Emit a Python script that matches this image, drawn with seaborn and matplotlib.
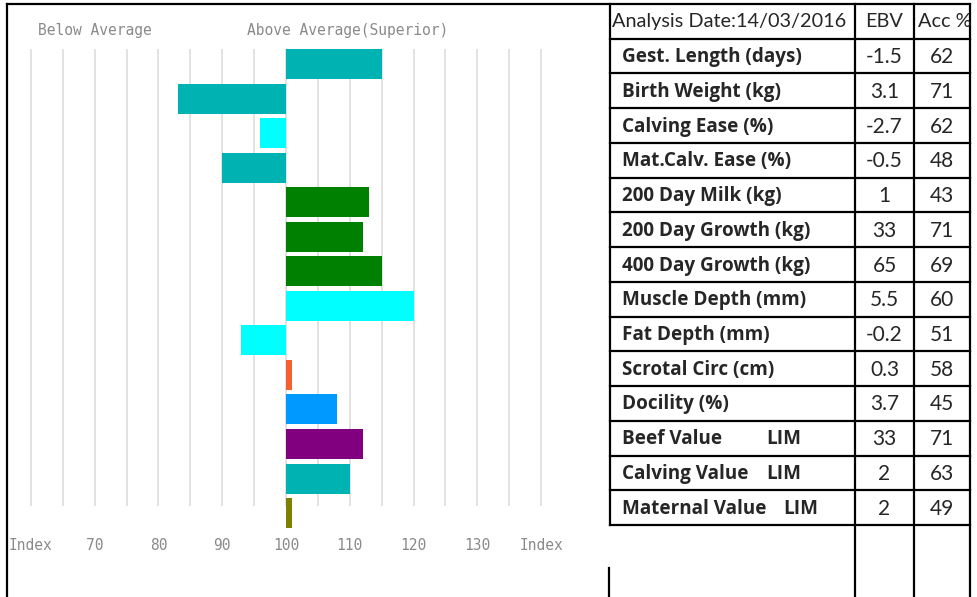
import numpy as np
import matplotlib.pyplot as plt
from matplotlib.lines import Line2D
import seaborn as sns

# rows of the EBV table, top to bottom
traits = ["Gest. Length (days)", "Birth Weight (kg)", "Calving Ease (%)",
          "Mat.Calv. Ease (%)", "200 Day Milk (kg)", "200 Day Growth (kg)",
          "400 Day Growth (kg)", "Muscle Depth (mm)", "Fat Depth (mm)",
          "Scrotal Circ (cm)", "Docility (%)", "Beef Value", "Calving Value",
          "Maternal Value"]
breed_tag = ["", "", "", "", "", "", "", "", "", "", "", "LIM", "LIM", "LIM"]
ebv = ["-1.5", "3.1", "-2.7", "-0.5", "1", "33", "65", "5.5", "-0.2", "0.3",
       "3.7", "33", "2", "2"]
acc = [62, 71, 62, 48, 43, 71, 69, 60, 51, 58, 45, 71, 63, 49]

# index values (100 = breed average)
index_vals = [115, 83, 96, 90, 113, 112, 115, 120, 93, 101, 108, 112, 110, 101]
bar_colors = ["#00B3B3", "#00B3B3", "#00FFFF", "#00B3B3", "#008000", "#008000",
              "#008000", "#00FFFF", "#00FFFF", "#F4602F", "#0099FF", "#800080",
              "#00B3B3", "#808000"]

tick_vals = [60, 70, 80, 90, 100, 110, 120, 130, 140]
tick_labels = ["Index", "70", "80", "90", "100", "110", "120", "130", "Index"]
grid_vals = np.arange(60, 141, 5)

header = ["Analysis Date:14/03/2016", "EBV", "Acc %"]

W, H = 977, 597

sns.set_theme(style="white")
plt.rcParams['font.family'] = ['Lato', 'DejaVu Sans']

fig = plt.figure(figsize=(W / 100, H / 100), dpi=100)
fig.patch.set_facecolor("white")


def fx(x):
    return x / W


def fy(y):
    return 1 - y / H


def line(x0, y0, x1, y1, lw=1.6):
    fig.add_artist(Line2D([fx(x0), fx(x1)], [fy(y0), fy(y1)], color="black",
                          lw=lw, solid_capstyle="projecting"))


# ---- index bar chart ----
ax = fig.add_axes([fx(7), fy(530), fx(610) - fx(7), fy(4) - fy(530)])
ax.set_facecolor("white")

offsets = [v - 100 for v in index_vals]
sns.barplot(x=offsets, y=traits, hue=traits, palette=bar_colors, legend=False,
            orient="h", width=0.87, saturation=1, left=100, linewidth=0, ax=ax)

ax.vlines(grid_vals, -0.435, 12.8, color="#e2e2e2", lw=1.4, zorder=0)

ax.set_xlim(56.24, 150.82)
ax.set_ylim(13.49, -1.737)
ax.set_yticks([])
ax.set_ylabel("")
ax.set_xticks(tick_vals)
ax.set_xticklabels(tick_labels, fontfamily="DejaVu Sans Mono", fontsize=10.5,
                   color="#8a8a8a")
ax.tick_params(axis="x", length=0, pad=6)
for s in ax.spines.values():
    s.set_visible(False)

gray_font = dict(fontfamily="DejaVu Sans Mono", fontsize=10.5, color="#8a8a8a",
                 va="center")
ax.text(70.1, -0.98, "Below Average", ha="center", **gray_font)
ax.text(109.7, -0.98, "Above Average(Superior)", ha="center", **gray_font)

# ---- EBV table ----
row_h = (525 - 4) / 15
col_ebv = (855 + 914) / 2
col_acc = (914 + 970) / 2

fig.text(fx(612), fy(4 + row_h * 0.5), header[0], ha="left", va="center",
         fontsize=14.3)
fig.text(fx(col_ebv), fy(4 + row_h * 0.5), header[1], ha="center", va="center",
         fontsize=14.3)
fig.text(fx(col_acc + 3), fy(4 + row_h * 0.5), header[2], ha="center",
         va="center", fontsize=14.3)

bold_font = dict(fontfamily=["Open Sans", "DejaVu Sans"], fontsize=13.6,
                 fontweight="bold", va="center")
for i, name in enumerate(traits):
    yc = fy(5 + row_h * (i + 1.5))
    fig.text(fx(622), yc, name, ha="left", **bold_font)
    if breed_tag[i]:
        tag_x = 783 if i == 13 else 766
        fig.text(fx(tag_x), yc, breed_tag[i], ha="left", **bold_font)
    fig.text(fx(col_ebv), yc, ebv[i], ha="center", va="center", fontsize=15)
    fig.text(fx(col_acc), yc, str(acc[i]), ha="center", va="center",
             fontsize=15)

# frame and grid lines
line(7, 4, 970, 4)
line(7, 4, 7, 597)
line(610, 4, 610, 525)
line(609, 568, 609, 597)
for k in range(1, 16):
    line(610, 4 + row_h * k, 970, 4 + row_h * k)
for x in (855, 914, 970):
    line(x, 4, x, 597)

fig.savefig("out.png", dpi=100, facecolor="white")
